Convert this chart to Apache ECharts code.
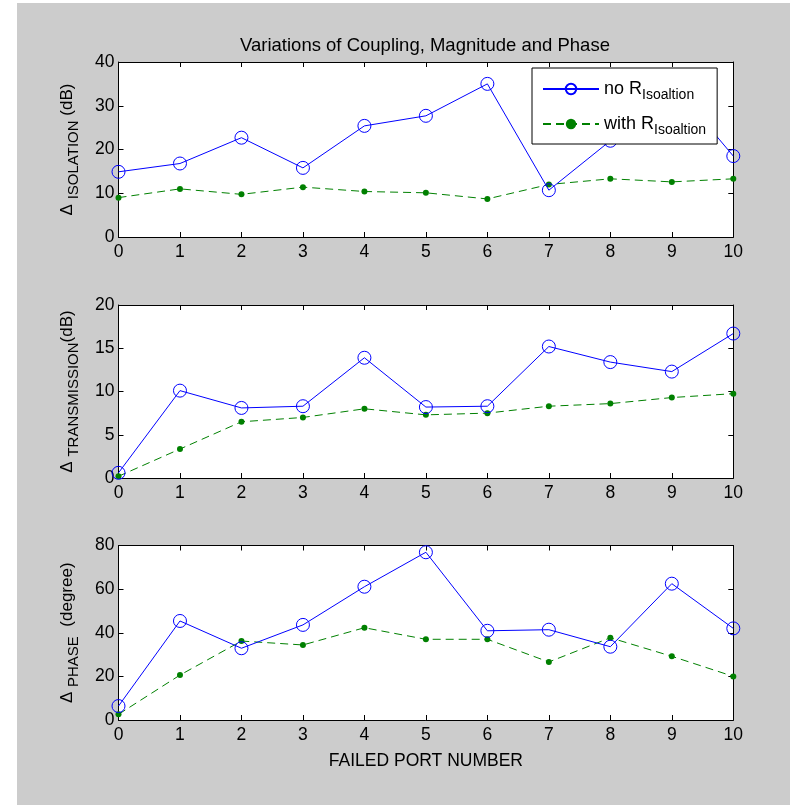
<!DOCTYPE html>
<html>
<head>
<meta charset="utf-8">
<script src="https://cdn.jsdelivr.net/npm/echarts@6/dist/echarts.min.js"></script>
<style>html,body{margin:0;padding:0;background:#fff;}#c{width:807px;height:807px;}</style>
</head>
<body>
<div id="c"></div>
<script>
const ports = [0, 1, 2, 3, 4, 5, 6, 7, 8, 9, 10];
const isoNoR = [14.9, 16.8, 22.7, 15.8, 25.4, 27.7, 35.0, 10.7, 22.0, 35.2, 18.5];
const isoWithR = [9.0, 11.0, 9.75, 11.4, 10.4, 10.1, 8.7, 12.0, 13.3, 12.6, 13.3];
const transNoR = [0.6, 10.1, 8.1, 8.3, 13.9, 8.2, 8.3, 15.2, 13.4, 12.3, 16.7];
const transWithR = [0.2, 3.35, 6.5, 7.0, 8.0, 7.3, 7.5, 8.3, 8.6, 9.3, 9.75];
const phaseNoR = [6.4, 45.4, 32.9, 43.6, 61.1, 76.9, 40.9, 41.4, 33.6, 62.5, 42.0];
const phaseWithR = [2.6, 20.6, 36.2, 34.4, 42.3, 37.0, 37.0, 26.6, 37.7, 29.2, 20.0];
const titleText = 'Variations of Coupling, Magnitude and Phase';
const xLabelText = 'FAILED PORT NUMBER';
const legendNames = ['no R', 'with R'];
const legendSub = 'Isoaltion';
const yNames = [['ISOLATION', ' (dB)'], ['TRANSMISSION', '(dB)'], ['PHASE', '  (degree)']];
const yRanges = [[0, 40, 10], [0, 20, 5], [0, 80, 20]];

const FONT = 'Liberation Sans, Arial, Helvetica, sans-serif';
const FS = 17.5;
const pair = (vals) => ports.map((p, i) => [p, vals[i]]);

const grids = [
  {left: 118.5, width: 614.8, top: 62, height: 175},
  {left: 118.5, width: 614.8, top: 305, height: 173},
  {left: 118.5, width: 614.8, top: 545.5, height: 174.5}
];

const xAxes = [], yAxes = [];
const axisLine = {show: true, onZero: false, lineStyle: {color: '#000', width: 1}};
for (let g = 0; g < 3; g++) {
  xAxes.push({
    type: 'value', gridIndex: g, min: 0, max: 10, interval: 1, position: 'bottom',
    axisLine, axisTick: {show: true, inside: true, length: 5, lineStyle: {color: '#000'}},
    axisLabel: {show: true, color: '#000', fontSize: FS, fontFamily: FONT, margin: 6},
    splitLine: {show: false},
    name: g === 2 ? xLabelText : '', nameLocation: 'middle', nameGap: 32,
    nameTextStyle: {color: '#000', fontSize: FS, fontFamily: FONT}
  });
  xAxes.push({
    type: 'value', gridIndex: g, min: 0, max: 10, interval: 1, position: 'top',
    axisLine, axisTick: {show: true, inside: true, length: 5, lineStyle: {color: '#000'}},
    axisLabel: {show: false}, splitLine: {show: false}
  });
  const r = yRanges[g];
  yAxes.push({
    type: 'value', gridIndex: g, min: r[0], max: r[1], interval: r[2], position: 'left',
    axisLine, axisTick: {show: true, inside: true, length: 5, lineStyle: {color: '#000'}},
    axisLabel: {show: true, color: '#000', fontSize: FS, fontFamily: FONT, margin: 4},
    splitLine: {show: false},
    name: '{d|\u0394 }{s|' + yNames[g][0] + '}{d|' + yNames[g][1] + '}',
    nameLocation: 'middle', nameRotate: 90, nameGap: 37,
    nameTextStyle: {
      color: '#000', fontFamily: FONT,
      rich: {
        d: {fontSize: 17, fontFamily: FONT, color: '#000'},
        s: {fontSize: 15, fontFamily: FONT, color: '#000', padding: [14, 0, 0, 0]}
      }
    }
  });
  yAxes.push({
    type: 'value', gridIndex: g, min: r[0], max: r[1], interval: r[2], position: 'right',
    axisLine, axisTick: {show: true, inside: true, length: 5, lineStyle: {color: '#000'}},
    axisLabel: {show: false}, splitLine: {show: false}
  });
}

const datasets = [[isoNoR, isoWithR], [transNoR, transWithR], [phaseNoR, phaseWithR]];
const series = [];
for (let g = 0; g < 3; g++) {
  series.push({
    name: legendNames[0], type: 'line', xAxisIndex: g * 2, yAxisIndex: g * 2,
    data: pair(datasets[g][0]), symbol: 'circle', symbolSize: 13,
    lineStyle: {color: '#0000ff', width: 1},
    itemStyle: {color: 'rgba(0,0,0,0)', borderColor: '#0000ff', borderWidth: 1},
    animation: false, z: 3
  });
  series.push({
    name: legendNames[1], type: 'line', xAxisIndex: g * 2, yAxisIndex: g * 2,
    data: pair(datasets[g][1]), symbol: 'circle', symbolSize: 6,
    lineStyle: {color: '#008000', width: 1, type: [8, 5]},
    itemStyle: {color: '#008000', borderWidth: 0},
    animation: false, z: 2
  });
}

const chart = echarts.init(document.getElementById('c'), null, {renderer: 'canvas'});
chart.setOption({
  animation: false,
  backgroundColor: '#ffffff',
  graphic: [{
    type: 'rect', left: 17, top: 3, z: -10, silent: true,
    shape: {width: 773, height: 802}, style: {fill: '#cccccc'}
  }, ...grids.map(gr => ({
    type: 'rect', left: gr.left, top: gr.top, z: -9, silent: true,
    shape: {width: gr.width, height: gr.height}, style: {fill: '#ffffff'}
  }))],
  title: {
    text: titleText, left: 420, top: 31, textAlign: 'center',
    textStyle: {color: '#000', fontSize: 18.5, fontWeight: 'normal', fontFamily: FONT}
  },
  legend: {
    data: legendNames, orient: 'vertical', left: 532, top: 68,
    backgroundColor: '#ffffff', borderColor: '#000', borderWidth: 1,
    padding: [12, 11, 7, 10], itemGap: 13, itemWidth: 56, itemHeight: 13,
    formatter: (n) => '{a|' + n + '}{b|' + legendSub + '}',
    textStyle: {
      color: '#000', fontFamily: FONT,
      rich: {
        a: {fontSize: 18, fontFamily: FONT, color: '#000'},
        b: {fontSize: 14, fontFamily: FONT, color: '#000', padding: [12, 0, 0, 0]}
      }
    }
  },
  grid: grids,
  xAxis: xAxes,
  yAxis: yAxes,
  series
});
</script>
</body>
</html>
